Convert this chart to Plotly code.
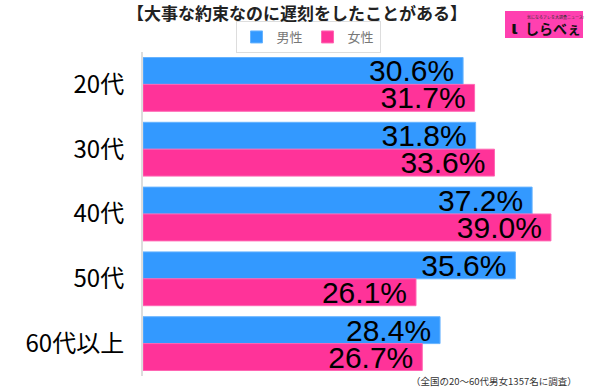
import plotly.graph_objects as go

categories = ["20代", "30代", "40代", "50代", "60代以上"]
male = [30.6, 31.8, 37.2, 35.6, 28.4]
female = [31.7, 33.6, 39.0, 26.1, 26.7]
series_names = ["男性", "女性"]
colors = ["#3399ff", "#ff3399"]
edge_colors = ["#66b3ff", "#ff66b3"]

W, H = 600, 387
L, R, T, B = 143, 10, 52, 11
pw, ph = W - L - R, H - T - B

def px(x):
    return (x - L) / pw

def py(y):
    return (H - B - y) / ph

fig = go.Figure()
for name, vals, c, ec in zip(series_names, [male, female], colors, edge_colors):
    fig.add_trace(go.Bar(
        y=categories, x=vals, name=name, orientation="h",
        marker=dict(color=c, line=dict(color=ec, width=1)),
        text=[f"{v:.1f}%\u2009" for v in vals],
        textposition="inside", insidetextanchor="end",
        constraintext="none", cliponaxis=False,
        textfont=dict(family="Liberation Sans, Arial", size=30, color="#000"),
        hoverinfo="skip",
    ))

fig.update_layout(
    width=W, height=H,
    margin=dict(l=L, r=R, t=T, b=B, autoexpand=False),
    paper_bgcolor="white", plot_bgcolor="white",
    barmode="group", bargap=0.17, bargroupgap=0,
    title=dict(text="<b>【大事な約束なのに遅刻をしたことがある】</b>",
               x=297 / W, xref="container", xanchor="center",
               y=1 - 14 / H, yref="container", yanchor="middle",
               font=dict(family="Noto Sans CJK JP", size=17, color="#222")),
    legend=dict(orientation="h", x=px(308), xanchor="center", y=py(37), yanchor="middle",
                bordercolor="#dddddd", borderwidth=1,
                font=dict(family="Noto Sans CJK JP", size=13, color="#777"),
                itemwidth=30, tracegroupgap=0),
    showlegend=True,
    xaxis=dict(range=[0, pw / 10.46], visible=False, fixedrange=True, automargin=False),
    yaxis=dict(autorange="reversed", showline=True, linecolor="#dddddd", linewidth=2,
               ticks="", ticklabelstandoff=12, showgrid=False, automargin=False,
               fixedrange=True,
               tickfont=dict(family="Noto Sans CJK JP", size=24, color="#000")),
)

# logo
fig.add_shape(type="rect", xref="paper", yref="paper",
              x0=px(505), x1=px(583), y0=py(38), y1=py(11),
              fillcolor="#ff40b0", line=dict(width=0))
fig.add_annotation(xref="paper", yref="paper", x=px(553), y=py(28),
                   xanchor="center", yanchor="middle",
                   text="<b>しらべぇ</b>", showarrow=False,
                   font=dict(family="Noto Sans CJK JP", size=14, color="#111"))
fig.add_annotation(xref="paper", yref="paper", x=px(514), y=py(27),
                   xanchor="center", yanchor="middle",
                   text="<b>ι</b>", showarrow=False,
                   font=dict(family="DejaVu Sans", size=18, color="#111"))
fig.add_annotation(xref="paper", yref="paper", x=px(555), y=py(17),
                   xanchor="center", yanchor="middle",
                   text="気になるアレを大調査ニュース!", showarrow=False,
                   font=dict(family="Noto Sans CJK JP", size=4, color="#333"))

# footnote
fig.add_annotation(xref="paper", yref="paper", x=px(579), y=py(381),
                   xanchor="right", yanchor="middle",
                   text="（全国の20〜60代男女1357名に調査）", showarrow=False,
                   font=dict(family="Noto Sans CJK JP", size=9.5, color="#333"))

fig.write_html("out.html", config={"displayModeBar": False},
               post_script="document.body.style.margin='0';document.body.style.padding='0';")
